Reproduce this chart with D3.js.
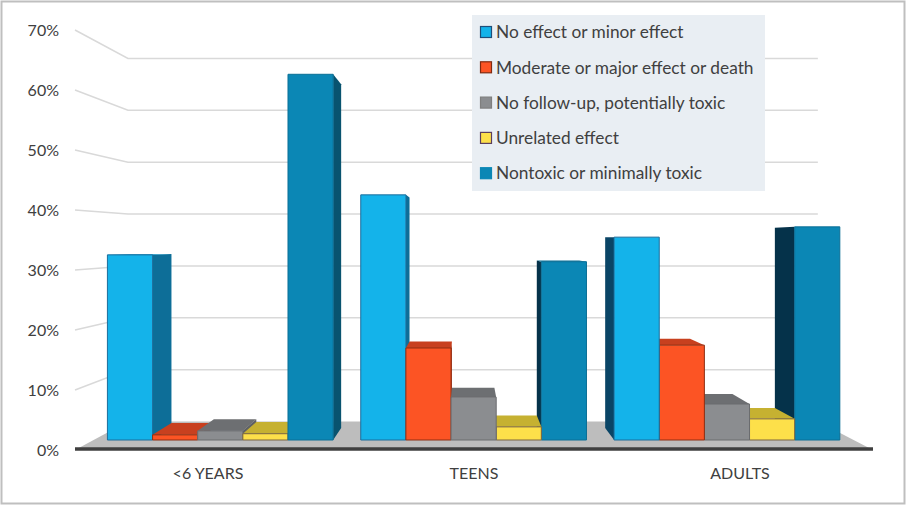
<!DOCTYPE html>
<html>
<head>
<meta charset="utf-8">
<script src="https://cdn.jsdelivr.net/npm/d3@7"></script>
<style>
  body { margin: 0; background: #fff; }
  svg text { font-family: Lato, "Open Sans", sans-serif; fill: #404040; }
</style>
</head>
<body>
<div id="chart"></div>
<script>
/* DATA */
const categories = ["<6 YEARS", "TEENS", "ADULTS"];
const seriesNames = [
  "No effect or minor effect",
  "Moderate or major effect or death",
  "No follow-up, potentially toxic",
  "Unrelated effect",
  "Nontoxic or minimally toxic"
];
// one array per series, values per category (share of cases)
const noEffect = [0.324, 0.429, 0.355];
const moderate = [0.009, 0.161, 0.166];
const noFollowUp = [0.016, 0.075, 0.063];
const unrelated = [0.011, 0.023, 0.037];
const nontoxic = [0.640, 0.312, 0.373];
const seriesValues = [noEffect, moderate, noFollowUp, unrelated, nontoxic];
const yTicks = [0, 0.1, 0.2, 0.3, 0.4, 0.5, 0.6, 0.7];

/* STYLES */
const frontColor = ["#14b3ea", "#fc5424", "#8b8d90", "#fde04a", "#0b87b5"];
const topColor = ["#0c8fc0", "#c8401f", "#6d6f72", "#c6b131", "#086f95"];
const rightSide = ["#0d6e98", "#a5341a", "#5e6063", "#9c8b27", "#08536f"];
const leftSide = ["#0a4566", "#7d2714", "#46484a", "#75681d", "#05324a"];
const edgeColor = ["#1b6d9c", "#8e2f13", "#6a6c6f", "#7a6540", "#0b6f96"];
const swatchEdge = ["#1f4e79", "#7f2a10", "#7f7f7f", "#5b3f5e", "#0b87b5"];

/* GEOMETRY */
const width = 908, height = 506;
const left = 75, right = 873, floorY = 450;
const VX = 466, VY = 240;      // vanishing point
const D1 = 0.0476, D2 = 0.105; // bar front / back depth
const DW = 0.1355;             // back wall depth

function proj(X, Y, d) {
  return [X + (VX - X) * d, Y + (VY - Y) * d];
}
const line = d3.line();

const svg = d3.select("#chart").append("svg")
  .attr("width", width)
  .attr("height", height);

// outer frame
svg.append("rect")
  .attr("x", 1.5).attr("y", 1.5)
  .attr("width", 903).attr("height", 502)
  .attr("fill", "#fff")
  .attr("stroke", "#bfbfbf")
  .attr("stroke-width", 2);

// + SCALES
const y = d3.scaleLinear().domain([0, 0.7]).range([floorY, 30]);
const x0 = d3.scaleBand()
  .domain(categories)
  .range([left, right])
  .paddingInner(0.109)
  .paddingOuter(0.0545);
const x1 = d3.scaleBand()
  .domain(d3.range(seriesNames.length))
  .range([0, x0.bandwidth()]);

// + GRIDLINES (left wall then back wall)
svg.append("g")
  .selectAll("path")
  .data(yTicks.filter(d => d > 0))
  .join("path")
  .attr("d", d => line([proj(left, y(d), 0), proj(left, y(d), DW), proj(right, y(d), DW)]))
  .attr("fill", "none")
  .attr("stroke", "#d9d9d9")
  .attr("stroke-width", 1.5);

// + FLOOR
svg.append("path")
  .attr("d", line([proj(left, floorY, 0), proj(right, floorY, 0), proj(right, floorY, DW), proj(left, floorY, DW)]) + "Z")
  .attr("fill", "#bdbdbd");

// + BARS
const bars = [];
categories.forEach((c, ci) => {
  seriesValues.forEach((vals, si) => {
    const X1 = x0(c) + x1(si), X2 = X1 + x1.bandwidth();
    bars.push({ ci, si, X1, X2, v: vals[ci], mid: (X1 + X2) / 2 });
  });
});
// outer bars first so the ones nearer the vanishing point cover their sides
bars.sort((a, b) => Math.abs(b.mid - VX) - Math.abs(a.mid - VX));

const barG = svg.append("g");
bars.forEach(b => {
  const Yt = y(b.v), Yb = y(0);
  const g = barG.append("g");
  if (b.X2 < VX) {
    g.append("path")
      .attr("d", line([proj(b.X2, Yt, D1), proj(b.X2, Yt, D2), proj(b.X2, Yb, D2), proj(b.X2, Yb, D1)]) + "Z")
      .attr("fill", rightSide[b.si]);
  } else if (b.X1 > VX) {
    g.append("path")
      .attr("d", line([proj(b.X1, Yt, D1), proj(b.X1, Yt, D2), proj(b.X1, Yb, D2), proj(b.X1, Yb, D1)]) + "Z")
      .attr("fill", leftSide[b.si]);
  }
  if (Yt > VY) {
    g.append("path")
      .attr("d", line([proj(b.X1, Yt, D1), proj(b.X2, Yt, D1), proj(b.X2, Yt, D2), proj(b.X1, Yt, D2)]) + "Z")
      .attr("fill", topColor[b.si]);
  }
  g.append("path")
    .attr("d", line([proj(b.X1, Yt, D1), proj(b.X2, Yt, D1), proj(b.X2, Yb, D1), proj(b.X1, Yb, D1)]) + "Z")
    .attr("fill", frontColor[b.si])
    .attr("stroke", edgeColor[b.si])
    .attr("stroke-width", 1);
});

// floor front edge
svg.append("line")
  .attr("x1", left).attr("x2", right)
  .attr("y1", floorY - 1).attr("y2", floorY - 1)
  .attr("stroke", "#3f3f3f")
  .attr("stroke-width", 3.5);

// + AXES
const yAxis = d3.axisLeft(y)
  .tickValues(yTicks)
  .tickFormat(d3.format(".0%"))
  .tickSize(0)
  .tickPadding(16);
svg.append("g")
  .attr("transform", `translate(${left},0)`)
  .call(yAxis)
  .call(g => g.select(".domain").remove())
  .selectAll("text")
  .attr("font-size", 16)
  .attr("fill", "#404040");

const xAxis = d3.axisBottom(x0).tickSize(0).tickPadding(18);
svg.append("g")
  .attr("transform", `translate(0,${floorY})`)
  .call(xAxis)
  .call(g => g.select(".domain").remove())
  .selectAll("text")
  .attr("font-size", 16)
  .attr("fill", "#404040");

// + LEGEND
const legend = svg.append("g");
legend.append("rect")
  .attr("x", 472).attr("y", 15)
  .attr("width", 293).attr("height", 176)
  .attr("fill", "#e9eef3");
const item = legend.selectAll(".item")
  .data(seriesNames)
  .join("g")
  .attr("class", "item")
  .attr("transform", (d, i) => `translate(480,${32 + i * 35.3})`);
item.append("rect")
  .attr("x", 0.5).attr("y", -5.5)
  .attr("width", 11).attr("height", 11)
  .attr("fill", (d, i) => frontColor[i])
  .attr("stroke", (d, i) => swatchEdge[i])
  .attr("stroke-width", 1.2);
item.append("text")
  .attr("x", 16)
  .attr("dy", "0.36em")
  .attr("font-size", 17.3)
  .text(d => d);
</script>
</body>
</html>
